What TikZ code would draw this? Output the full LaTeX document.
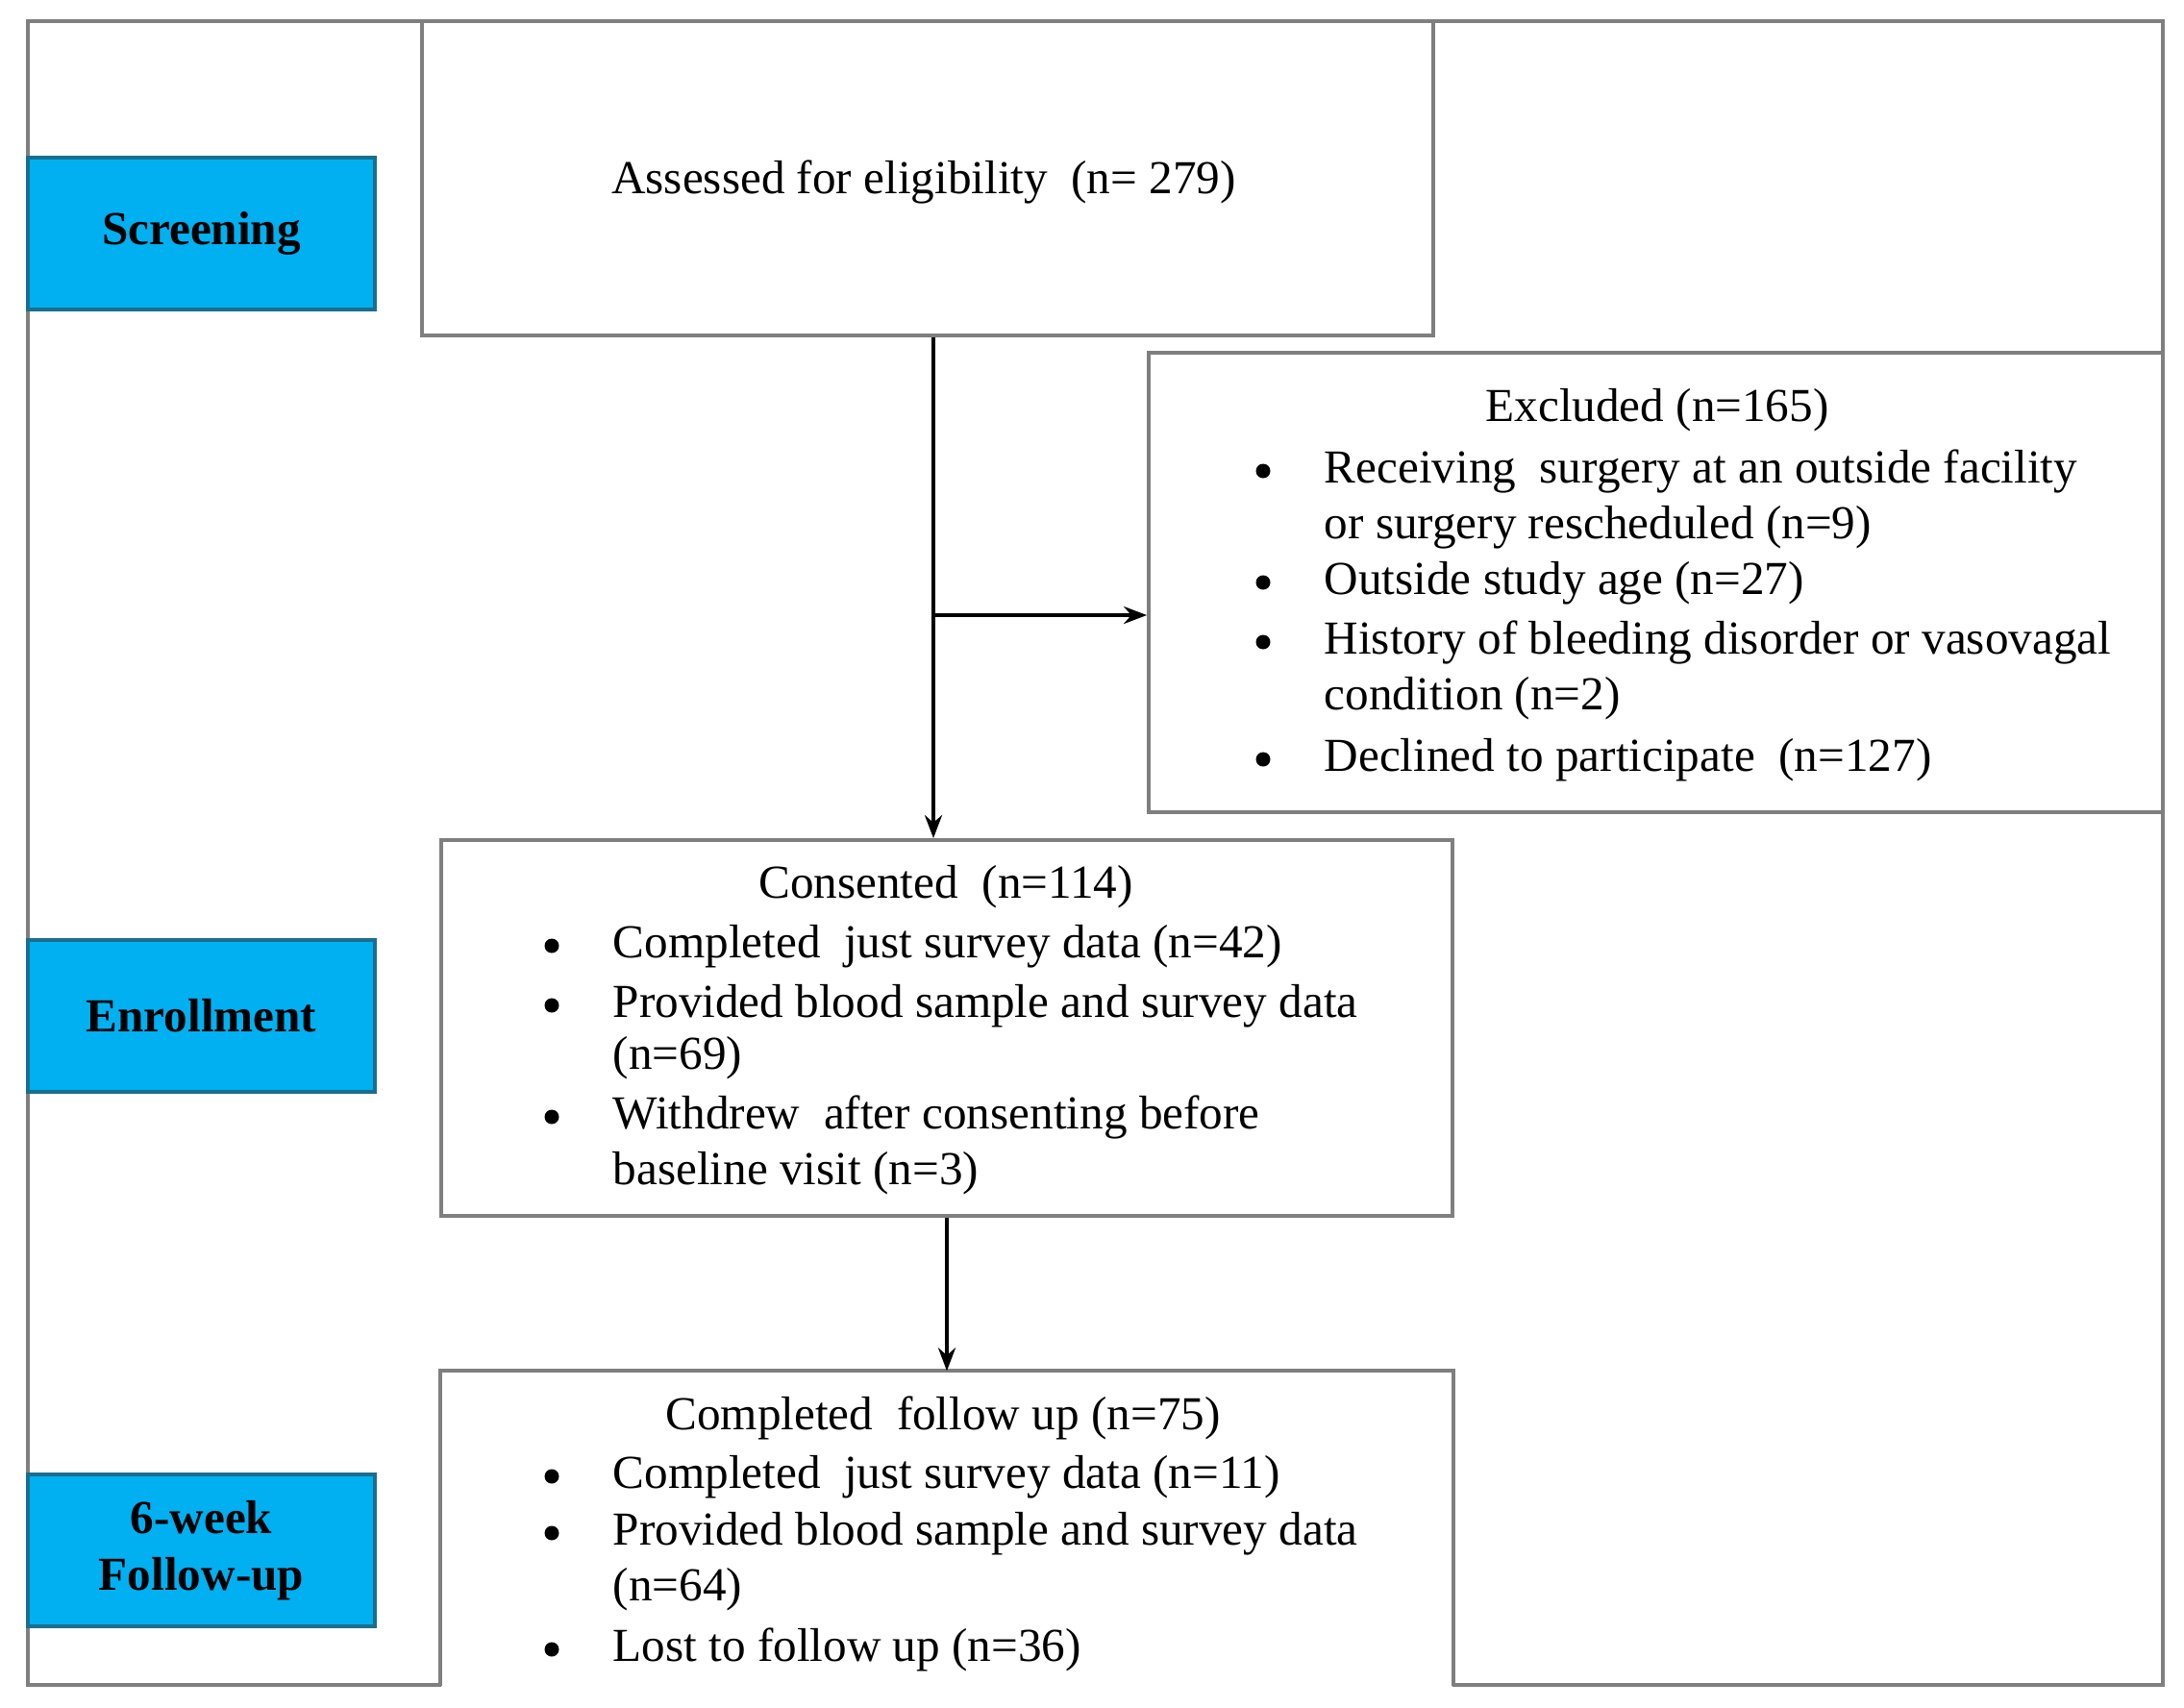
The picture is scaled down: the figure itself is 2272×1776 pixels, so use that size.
\documentclass[tikz,border=0pt]{standalone}
\usepackage{fontspec}
\setmainfont{Liberation Serif}
\usetikzlibrary{arrows.meta,calc}
\definecolor{lblue}{HTML}{00B0F0}
\definecolor{lborder}{HTML}{1A6E8E}
\definecolor{boxgray}{HTML}{7F7F7F}
\begin{document}
\begin{tikzpicture}[x=0.1mm,y=-0.1mm,
  graybox/.style={draw=boxgray,line width=1.1pt,inner sep=0pt},
  grayline/.style={draw=boxgray,line width=1.1pt},
  bluebox/.style={draw=lborder,fill=lblue,line width=0.9pt,minimum width=36.1mm,minimum height=15.8mm,inner sep=0pt,font=\fontsize{14pt}{16.8pt}\selectfont\bfseries,align=center},
  txt/.style={inner sep=0pt,font=\fontsize{14pt}{16.8pt}\selectfont,anchor=mid west},
  ttl/.style={inner sep=0pt,font=\fontsize{14pt}{16.8pt}\selectfont,anchor=mid},
  bul/.style={circle,fill=black,inner sep=0pt,minimum size=1.5mm},
  arr/.style={draw=black,line width=1.1pt,-{Stealth[length=2.4mm,width=1.8mm]}}]
\useasboundingbox (0,0) rectangle (2272,1776);
\fill[white] (0,0) rectangle (2272,1776);

% outer frame
\draw[grayline] (459,1753) -- (29,1753) -- (29,22) -- (2250,22) -- (2250,1753) -- (1511,1753);

% boxes
\node[graybox,minimum width=105.2mm,minimum height=32.7mm] (assess) at (965,185.5) {};
\node[graybox,minimum width=105.5mm,minimum height=47.8mm] (excl) at (1722.5,606) {};
\node[graybox,minimum width=105.2mm,minimum height=39.1mm] (cons) at (985,1069.5) {};
\node[inner sep=0pt,minimum width=105.2mm,minimum height=32.6mm] (comp) at (985,1590) {};
\draw[grayline] (comp.south west) -- (comp.north west) -- (comp.north east) -- (comp.south east);

% stage labels
\node[bluebox] (screen) at (209.5,243) {Screening};
\node[bluebox] (enroll) at (209.5,1057) {Enrollment};
\node[bluebox] (follow) at (209.5,1613) {6-week\\Follow-up};

% assessed text
\node[ttl] (asst) at (961,193) {Assessed for eligibility \ (n= 279)};

% excluded
\node[ttl] (ext) at (1724,430) {Excluded (n=165)};
\node[bul] (exb1) at (1314,490) {};
\node[txt] (ex1) at (1377,494) {Receiving \ surgery at an outside facility};
\node[txt] (ex2) at (1377,552) {or surgery rescheduled (n=9)};
\node[bul] (exb2) at (1314,606) {};
\node[txt] (ex3) at (1377,610) {Outside study age (n=27)};
\node[bul] (exb3) at (1314,668) {};
\node[txt] (ex4) at (1377,672) {History of bleeding disorder or vasovagal};
\node[txt] (ex5) at (1377,730) {condition (n=2)};
\node[bul] (exb4) at (1314,790) {};
\node[txt] (ex6) at (1377,794) {Declined to participate \ (n=127)};

% consented
\node[ttl] (cot) at (984,926) {Consented \ (n=114)};
\node[bul] (cob1) at (574,984) {};
\node[txt] (co1) at (637,988) {Completed \ just survey data (n=42)};
\node[bul] (cob2) at (574,1046) {};
\node[txt] (co2) at (637,1050) {Provided blood sample and survey data};
\node[txt] (co3) at (637,1104) {(n=69)};
\node[bul] (cob3) at (574,1162) {};
\node[txt] (co4) at (637,1166) {Withdrew \ after consenting before};
\node[txt] (co5) at (637,1224) {baseline visit (n=3)};

% completed follow up
\node[ttl] (cft) at (981,1479) {Completed \ follow up (n=75)};
\node[bul] (cfb1) at (574,1536) {};
\node[txt] (cf1) at (637,1540) {Completed \ just survey data (n=11)};
\node[bul] (cfb2) at (574,1595) {};
\node[txt] (cf2) at (637,1599) {Provided blood sample and survey data};
\node[txt] (cf3) at (637,1657) {(n=64)};
\node[bul] (cfb3) at (574,1716) {};
\node[txt] (cf4) at (637,1720) {Lost to follow up (n=36)};

% connectors
\coordinate (a1top) at ($(assess.south)+(6,0)$);
\coordinate (split) at (971,640);
\draw[arr] (a1top) -- (a1top |- cons.north);
\draw[arr] (split) -- (split -| excl.west);
\draw[arr] (cons.south) -- (comp.north);
\end{tikzpicture}
\end{document}
